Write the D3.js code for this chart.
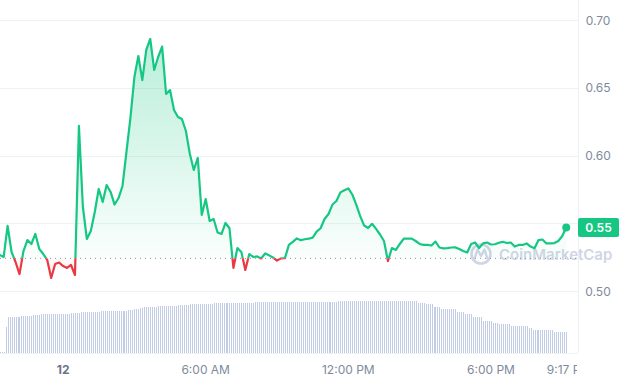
<!DOCTYPE html>
<html><head><meta charset="utf-8">
<script src="https://cdn.jsdelivr.net/npm/d3@7"></script>
<style>
html,body{margin:0;padding:0;background:#fff;}
svg{display:block;font-family:Inter,"Noto Sans",sans-serif;}
</style>
</head><body>
<svg id="chart" width="620" height="380"></svg>
<script>
// ---------- data ----------
const domainStart = new Date(2023, 0, 11, 21, 17);
const domainEnd   = new Date(2023, 0, 12, 21, 17);
const seriesStart = new Date(2023, 0, 11, 21, 20);
const priceStepMin = 10;
const prices = [
  0.5266,0.5251,0.5480,0.5288,0.5214,0.5125,0.5295,0.5376,0.5347,0.5421,
  0.5310,0.5273,0.5229,0.5096,0.5199,0.5210,0.5184,0.5170,0.5192,0.5118,
  0.6218,0.5620,0.5384,0.5443,0.5583,0.5753,0.5657,0.5782,0.5731,0.5638,
  0.5686,0.5775,0.6026,0.6277,0.6579,0.6734,0.6557,0.6779,0.6860,0.6631,
  0.6727,0.6804,0.6454,0.6483,0.6336,0.6284,0.6269,0.6181,0.6011,0.5893,
  0.5982,0.5561,0.5679,0.5517,0.5531,0.5432,0.5421,0.5502,0.5463,0.5170,
  0.5317,0.5288,0.5155,0.5273,0.5251,0.5255,0.5240,0.5277,0.5263,0.5247,
  0.5225,0.5241,0.5243,0.5340,0.5363,0.5388,0.5375,0.5382,0.5386,0.5394,
  0.5438,0.5463,0.5531,0.5568,0.5638,0.5664,0.5728,0.5744,0.5757,0.5712,
  0.5637,0.5553,0.5483,0.5465,0.5496,0.5458,0.5417,0.5369,0.5221,0.5317,
  0.5303,0.5347,0.5387,0.5387,0.5387,0.5369,0.5347,0.5340,0.5340,0.5336,
  0.5365,0.5321,0.5315,0.5317,0.5321,0.5322,0.5310,0.5295,0.5284,0.5347,
  0.5358,0.5317,0.5351,0.5358,0.5343,0.5345,0.5356,0.5363,0.5354,0.5358,
  0.5328,0.5340,0.5340,0.5351,0.5328,0.5315,0.5376,0.5380,0.5351,0.5352,
  0.5354,0.5369,0.5406,0.5469
];
const volumeStepMin = 5;
const volumes = [
  1.5,1.5,1.5,26,36.3,36.3,36.3,36.3,36.3,36.3,36.3,
  37,37,37,37,37,37,
  38,38,38,38,
  38.7,38.7,38.7,38.7,38.7,
  39.3,39.3,39.3,39.3,39.3,39.3,39.3,39.3,39.3,39.3,
  40,40,40,40,40,
  41,41,41,41,41,41,41,41,41,41,
  42,42,42,42,42,42,42,42,42,42,42,42,42,42,
  43,43,43,44,44,44,45,45,
  45.7,45.7,45.7,45.7,45.7,45.7,45.7,
  47,47,47,47,47,47,47,47,47,47,
  48,48,48,48,48,48,
  49,49,49,49,49,49,49,49,49,49,49,49,
  50,50,50,50,50,50,50,50,50,50,50,50,50,50,50,50,50,50,50,50,50,
  50.7,50.7,50.7,50.7,50.7,50.7,50.7,50.7,50.7,50.7,50.7,50.7,50.7,50.7,
  50.7,50.7,50.7,50.7,50.7,50.7,50.7,50.7,50.7,50.7,50.7,50.7,50.7,50.7,
  50.7,50.7,50.7,50.7,50.7,50.7,50.7,50.7,50.7,50.7,50.7,50.7,50.7,50.7,
  51.7,51.7,51.7,51.7,51.7,51.7,51.7,51.7,51.7,51.7,
  51.7,51.7,51.7,51.7,51.7,51.7,51.7,51.7,51.7,51.7,
  51.7,51.7,51.7,51.7,51.7,51.7,51.7,51.7,51.7,51.7,
  51.7,51.7,51.7,51.7,51.7,51.7,51.7,51.7,51.7,51.7,
  49.7,49.7,49.7,49.7,48.7,48.7,48.7,48.7,46.3,46.3,46.3,46.3,
  44,44,44,44,44,44,44,44,
  41,41,41,41,38.7,38.7,38.7,38.7,
  36.3,36.3,36.3,36.3,36.3,32.3,32.3,32.3,32.3,32.3,
  30.3,30.3,30.3,29,29,29,29,29,29,
  27.3,27.3,27.3,27.3,27.3,27.3,27.3,27.3,27.3,
  24.7,24.7,
  23.3,23.3,23.3,23.3,23.3,23.3,23.3,23.3,23.3,23.3,23.3,
  20.7,20.7,20.7,20.7,20.7,20.7,20.7
];
const openPrice = 0.5241;
const lastPriceLabel = "0.55";
const yTicks = [0.50, 0.55, 0.60, 0.65, 0.70];
const yTickLabels = ["0.50", "0.55", "0.60", "0.65", "0.70"];
const xTickTimes = [new Date(2023,0,12,0,0), new Date(2023,0,12,6,0), new Date(2023,0,12,12,0), new Date(2023,0,12,18,0), new Date(2023,0,12,21,17)];
const xTickLabels = ["12", "6:00 AM", "12:00 PM", "6:00 PM", "9:17 PM"];
const xTickBold = [true, false, false, false, false];

// ---------- build ----------
const GREEN = "#16c784", RED = "#ea3943", GRAY = "#808a9d", GRID = "#eff2f5";
const plotRight = 578;
const svg = d3.select("#chart");
const x = d3.scaleTime().domain([domainStart, domainEnd]).range([-1.5, 569]);
const y = d3.scaleLinear().domain([0.50, 0.70]).range([291, 20]);
const yV = d3.scaleLinear().domain([0, 60]).range([353, 293]);

const priceData = prices.map((p, i) => ({t: new Date(seriesStart.getTime() + i * priceStepMin * 60000), p}));
const volData = volumes.map((v, i) => ({t: new Date(seriesStart.getTime() + i * volumeStepMin * 60000), v}));
const baseY = y(openPrice);
const last = priceData[priceData.length - 1];
const ty = y(last.p);

const defs = svg.append("defs");
const gG = defs.append("linearGradient").attr("id", "gGreen").attr("gradientUnits", "userSpaceOnUse")
  .attr("x1", 0).attr("x2", 0).attr("y1", 38).attr("y2", baseY);
gG.append("stop").attr("offset", 0).attr("stop-color", GREEN).attr("stop-opacity", 0.30);
gG.append("stop").attr("offset", 1).attr("stop-color", GREEN).attr("stop-opacity", 0.02);
const gR = defs.append("linearGradient").attr("id", "gRed").attr("gradientUnits", "userSpaceOnUse")
  .attr("x1", 0).attr("x2", 0).attr("y1", baseY).attr("y2", 285);
gR.append("stop").attr("offset", 0).attr("stop-color", RED).attr("stop-opacity", 0.02);
gR.append("stop").attr("offset", 1).attr("stop-color", RED).attr("stop-opacity", 0.12);
defs.append("clipPath").attr("id", "above").append("rect").attr("x", -10).attr("y", -10).attr("width", 600).attr("height", baseY + 10);
defs.append("clipPath").attr("id", "below").append("rect").attr("x", -10).attr("y", baseY).attr("width", 600).attr("height", 200);
defs.append("clipPath").attr("id", "xclip").append("rect").attr("x", 0).attr("y", 355).attr("width", plotRight - 1).attr("height", 30);

// grid
svg.append("g").selectAll("line").data(yTicks).join("line")
  .attr("x1", 0).attr("x2", plotRight).attr("y1", d => Math.round(y(d)) + 0.5).attr("y2", d => Math.round(y(d)) + 0.5)
  .attr("stroke", GRID).attr("stroke-width", 1);
svg.append("line").attr("x1", plotRight + 0.5).attr("x2", plotRight + 0.5).attr("y1", 0).attr("y2", 353)
  .attr("stroke", GRID);
svg.append("line").attr("x1", 0).attr("x2", plotRight).attr("y1", 353.5).attr("y2", 353.5).attr("stroke", GRID);

// volume bars
svg.append("g").selectAll("rect").data(volData).join("rect")
  .attr("x", d => Math.round(x(d.t))).attr("width", 1)
  .attr("y", d => yV(d.v)).attr("height", d => yV(0) - yV(d.v))
  .attr("fill", "#c3cce6").attr("shape-rendering", "crispEdges");

// watermark
const wm = svg.append("g");
wm.append("circle").attr("cx", 481).attr("cy", 254).attr("r", 9.5)
  .attr("fill", "none").attr("stroke", "#d0d6e5").attr("stroke-width", 2.6);
wm.append("path").attr("d", "M474.5,259 L477.5,249.5 L481,256 L484.5,249.5 L487.5,259")
  .attr("fill", "none").attr("stroke", "#d0d6e5").attr("stroke-width", 2.4).attr("stroke-linejoin", "round");
wm.append("text").attr("x", 499).attr("y", 254).attr("dominant-baseline", "central")
  .attr("font-size", 15).attr("font-weight", 600).attr("fill", "#d0d6e5").text("CoinMarketCap");

// area
const area = d3.area().x(d => x(d.t)).y0(baseY).y1(d => y(d.p));
svg.append("path").datum(priceData).attr("d", area).attr("fill", "url(#gGreen)").attr("clip-path", "url(#above)");
svg.append("path").datum(priceData).attr("d", area).attr("fill", "url(#gRed)").attr("clip-path", "url(#below)");

// baseline
svg.append("line").attr("x1", 0).attr("x2", 576).attr("y1", baseY).attr("y2", baseY)
  .attr("stroke", "#8a93a6").attr("stroke-width", 1).attr("stroke-dasharray", "1,4");

// line
const line = d3.line().x(d => x(d.t)).y(d => y(d.p));
svg.append("path").datum(priceData).attr("d", line).attr("fill", "none").attr("stroke", GREEN)
  .attr("stroke-width", 2.2).attr("stroke-linejoin", "round").attr("clip-path", "url(#above)");
svg.append("path").datum(priceData).attr("d", line).attr("fill", "none").attr("stroke", RED)
  .attr("stroke-width", 2.2).attr("stroke-linejoin", "round").attr("clip-path", "url(#below)");

// last dot
svg.append("circle").attr("cx", x(last.t)).attr("cy", ty).attr("r", 4).attr("fill", GREEN);

// y labels (the one hidden under the price tag is not drawn)
const visibleTicks = yTicks.map((d, i) => ({d, label: yTickLabels[i]})).filter(o => Math.abs(y(o.d) - ty) > 12);
svg.append("g").selectAll("text").data(visibleTicks).join("text")
  .attr("x", 598).attr("y", o => y(o.d)).attr("text-anchor", "middle").attr("dominant-baseline", "central")
  .attr("font-size", 12).attr("fill", GRAY).text(o => o.label);

// price tag
svg.append("rect").attr("x", 578).attr("y", ty - 9.5).attr("width", 41).attr("height", 19).attr("rx", 2).attr("fill", GREEN);
svg.append("text").attr("x", 598.5).attr("y", ty).attr("text-anchor", "middle").attr("dominant-baseline", "central")
  .attr("font-size", 12).attr("font-weight", 600).attr("fill", "#fff").text(lastPriceLabel);

// x labels
svg.append("g").attr("clip-path", "url(#xclip)").selectAll("text").data(xTickTimes).join("text")
  .attr("x", d => x(d)).attr("y", 369).attr("text-anchor", "middle").attr("dominant-baseline", "central")
  .attr("font-size", 12).attr("font-weight", (d, i) => xTickBold[i] ? 700 : 400)
  .attr("fill", (d, i) => xTickBold[i] ? "#6b7489" : GRAY).text((d, i) => xTickLabels[i]);
</script>
</body></html>
